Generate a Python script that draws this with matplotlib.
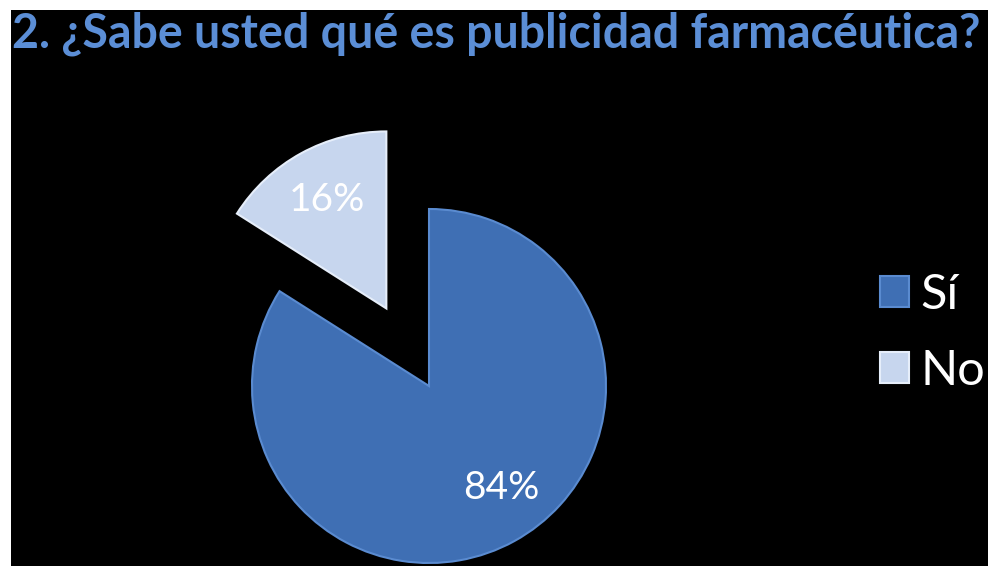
import matplotlib
matplotlib.use("Agg")
import matplotlib.pyplot as plt
from matplotlib.patches import Rectangle

# survey answers
labels = ["Sí", "No"]
values = [84, 16]
colors = ["#3f6fb4", "#c7d6ee"]
edges = ["#5a8bd0", "#e6eefa"]

title = "2. ¿Sabe usted qué es publicidad farmacéutica?"

W, H = 994, 569
R = 177
fig = plt.figure(figsize=(W / 100, H / 100), dpi=100)
fig.patch.set_facecolor("white")

# one axes in pixel units (y up) over the whole figure
ax = fig.add_axes([0, 0, 1, 1])
ax.add_patch(Rectangle((11, 3), 977, 556, facecolor="black", edgecolor="none", zorder=0))

# explode is in data units here, so pull "No" out by half a radius
wedges, texts, autotexts = ax.pie(
    values, colors=colors, startangle=90, counterclock=False,
    explode=(0, 0.5 * R), center=(429, 183), radius=R,
    autopct="%d%%", pctdistance=0.7,
    wedgeprops=dict(linewidth=1.5),
    textprops=dict(color="white", fontsize=28, family="Lato"),
)
for w, e in zip(wedges, edges):
    w.set_edgecolor(e)
    w.set_zorder(2)
for t in autotexts:
    t.set_zorder(3)

# the big slice's label sits a little right of its mid-angle
x, y = autotexts[0].get_position()
autotexts[0].set_position((x + 13, y + 7))

ax.set_xlim(0, W)
ax.set_ylim(0, H)
ax.set_aspect("auto")
ax.axis("off")

fig.text(12 / W, 1 - 47 / H, title, color="#5b8ed6", fontsize=33.5, fontweight="bold",
         family="Lato", ha="left", va="baseline")

leg = fig.legend(wedges, labels, loc="center left", bbox_to_anchor=(880 / W, 1 - 333 / H),
                 frameon=False, handlelength=0.6, handleheight=0.6,
                 handletextpad=0.23, labelspacing=0.66, borderpad=0, borderaxespad=0,
                 prop=dict(family="Lato", size=35))
for t in leg.get_texts():
    t.set_color("white")

fig.savefig("out.png", dpi=100, facecolor=fig.get_facecolor())
